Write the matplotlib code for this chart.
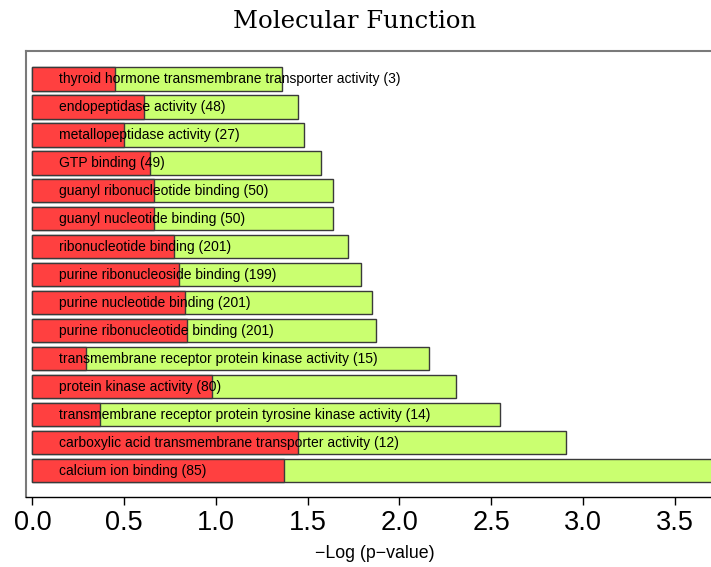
import matplotlib
matplotlib.use("Agg")
import matplotlib.pyplot as plt
import numpy as np

# GO terms, listed top to bottom
terms = [
    "thyroid hormone transmembrane transporter activity (3)",
    "endopeptidase activity (48)",
    "metallopeptidase activity (27)",
    "GTP binding (49)",
    "guanyl ribonucleotide binding (50)",
    "guanyl nucleotide binding (50)",
    "ribonucleotide binding (201)",
    "purine ribonucleoside binding (199)",
    "purine nucleotide binding (201)",
    "purine ribonucleotide binding (201)",
    "transmembrane receptor protein kinase activity (15)",
    "protein kinase activity (80)",
    "transmembrane receptor protein tyrosine kinase activity (14)",
    "carboxylic acid transmembrane transporter activity (12)",
    "calcium ion binding (85)",
]
# -log10 p-values (full bar) and the overlaid red segment
neglog_p = [1.36, 1.45, 1.48, 1.57, 1.64, 1.64, 1.72, 1.79, 1.85, 1.87,
            2.16, 2.31, 2.55, 2.91, 3.90]
red_part = [0.45, 0.61, 0.50, 0.64, 0.66, 0.66, 0.77, 0.80, 0.83, 0.84,
            0.29, 0.98, 0.37, 1.45, 1.37]
xticks = [0.0, 0.5, 1.0, 1.5, 2.0, 2.5, 3.0, 3.5]

W, H = 711, 567
fig = plt.figure(figsize=(W / 100, H / 100), dpi=100)

x_lo, x_hi = -0.035, 4.1
px_per_unit = 183.5
ax_left_px, ax_top_px, ax_bot_px = 26, 51, 497
ax_w_px = (x_hi - x_lo) * px_per_unit
ax = fig.add_axes([ax_left_px / W, (H - ax_bot_px) / H,
                   ax_w_px / W, (ax_bot_px - ax_top_px) / H])

n = len(terms)
ypos = np.array([0.7 + 1.2 * (n - 1 - i) for i in range(n)])

green = "#CAFF70"
red = "#FF4040"
edge = "#3a3a3a"

ax.barh(ypos, neglog_p, height=1.0, color=green, edgecolor=edge, linewidth=1.0, zorder=2)
ax.barh(ypos, red_part, height=1.0, color=red, edgecolor=edge, linewidth=1.0, zorder=3)

for y, t in zip(ypos, terms):
    ax.text(0.146, y, t, ha="left", va="center", fontsize=10.0,
            family="Liberation Sans", color="black", zorder=4)

ax.set_xlim(x_lo, x_hi)
ax.set_ylim(-0.436, 18.7)
ax.set_yticks([])
ax.set_xticks(xticks)
ax.set_xticklabels([f"{v:.1f}" for v in xticks], family="Liberation Sans", fontsize=19.5)
ax.tick_params(axis="x", direction="out", length=6, width=1, pad=3, color="black")

for side in ("left", "top", "right"):
    ax.spines[side].set_color("#7a7a7a")
    ax.spines[side].set_linewidth(1.5)
ax.spines["bottom"].set_color("black")
ax.spines["bottom"].set_linewidth(1.0)

fig.text(375 / W, 1 - 553 / H, "\u2212Log (p\u2212value)", ha="center", va="center",
         fontsize=12.8, family="Liberation Sans")
fig.text(355 / W, 1 - 21 / H, "Molecular Function", ha="center", va="center",
         fontsize=17.6, family="DejaVu Serif")

fig.savefig("out.png", dpi=100)
